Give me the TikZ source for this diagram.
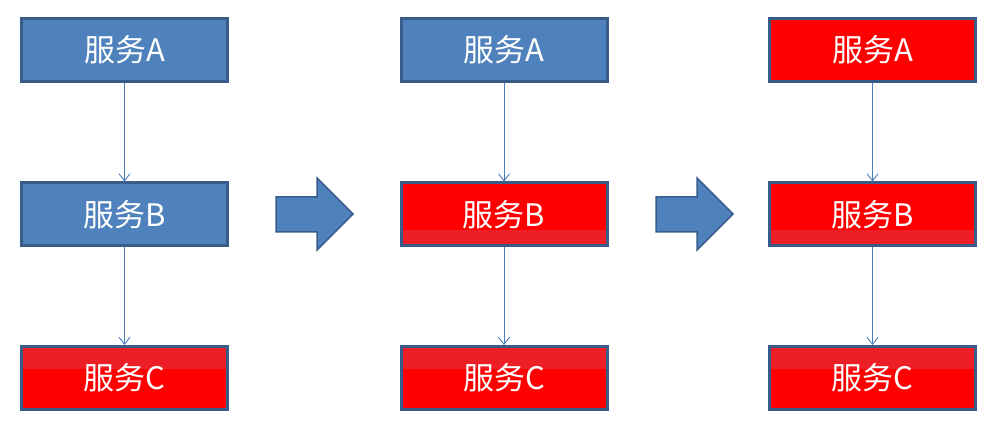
\documentclass[tikz,border=0pt]{standalone}
\usepackage{fontspec}
\newfontfamily\cjk{Noto Sans CJK SC}
\usetikzlibrary{arrows.meta,calc}

\definecolor{svcblue}{RGB}{79,129,189}
\definecolor{svcedge}{RGB}{56,93,138}
\definecolor{linkblue}{RGB}{74,126,187}
\definecolor{svcred}{RGB}{255,0,0}
\definecolor{bandred}{RGB}{237,30,38}

\tikzset{
  svc/.style={rectangle, draw=svcedge, line width=3pt, inner sep=0pt,
    minimum width=206pt, minimum height=63pt, text=white,
    font=\cjk\fontsize{31}{33}\selectfont},
  bluebox/.style={svc, fill=svcblue},
  redbox/.style={svc, fill=svcred},
  bandlow/.style={redbox, path picture={
    \fill[bandred] (path picture bounding box.south west) rectangle
      ($(path picture bounding box.south east)!0.26!(path picture bounding box.north east)$);}},
  bandhigh/.style={redbox, path picture={
    \fill[bandred] (path picture bounding box.north east) rectangle
      ($(path picture bounding box.north west)!0.36!(path picture bounding box.south west)$);}},
  link/.style={draw=linkblue, line width=0.9pt,
    -{Straight Barb[length=7pt,width=11pt,line width=0.9pt]}},
  bigarrow/.style={fill=svcblue, draw=svcedge, line width=1.5pt, line join=miter}
}

\begin{document}
\begin{tikzpicture}[x=1pt, y=-1pt]
  \useasboundingbox (0,0) rectangle (990,446);

  % first column: only C is affected
  \node[bluebox] (a1) at (124.5,50) {服务A};
  \node[bluebox] (b1) at (124.5,214.5) {服务B};
  \node[bandhigh] (c1) at (124.5,378) {服务C};

  % second column: B and C affected
  \node[bluebox] (a2) at (504,50) {服务A};
  \node[bandlow] (b2) at (504,214.5) {服务B};
  \node[bandhigh] (c2) at (504,378) {服务C};

  % third column: the whole chain affected
  \node[redbox] (a3) at (872.5,50) {服务A};
  \node[bandlow] (b3) at (872.5,214.5) {服务B};
  \node[bandhigh] (c3) at (872.5,378) {服务C};

  % calls between services
  \foreach \c in {1,2,3} {
    \draw[link] (a\c.south) -- (b\c.north);
    \draw[link] (b\c.south) -- (c\c.north);
  }

  % block arrows between the stages
  \draw[bigarrow] (276,197) -- (317,197) -- (317,178) -- (353,214)
    -- (317,250) -- (317,232) -- (276,232) -- cycle;
  \draw[bigarrow] (656,197) -- (697,197) -- (697,178) -- (733,214)
    -- (697,250) -- (697,232) -- (656,232) -- cycle;
\end{tikzpicture}
\end{document}
